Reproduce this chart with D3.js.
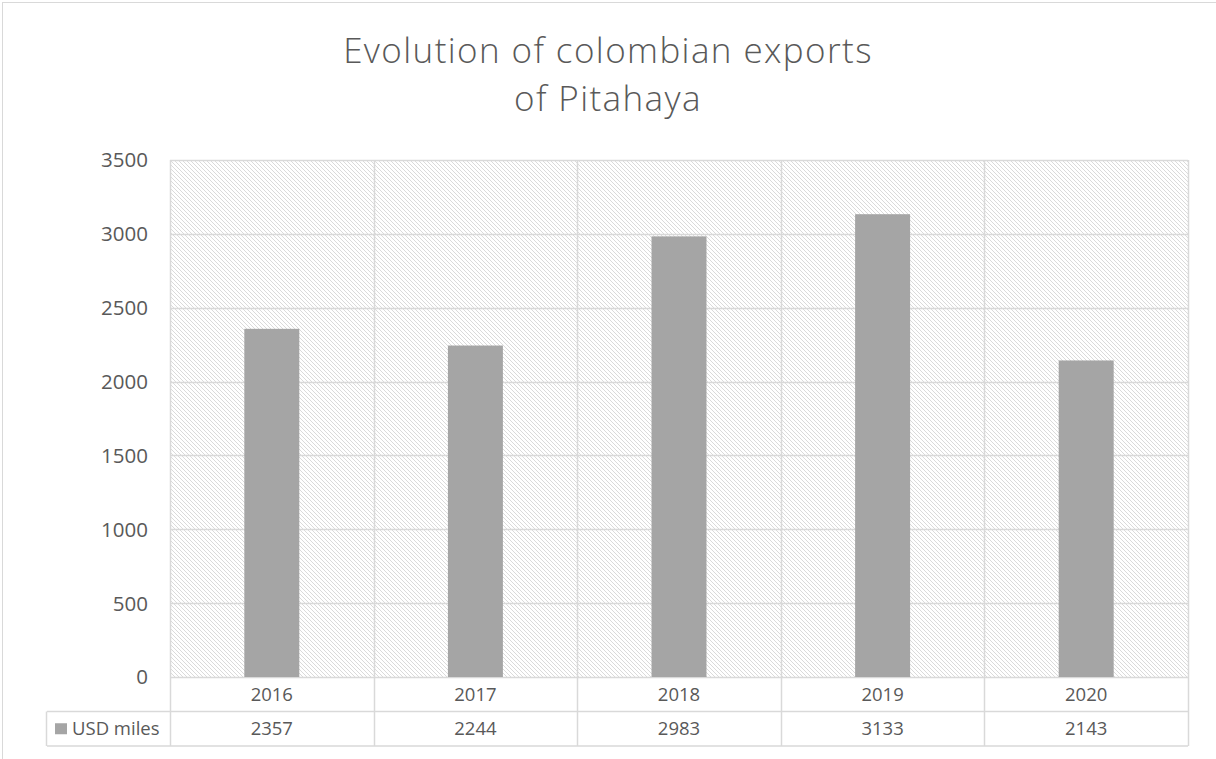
<!DOCTYPE html>
<html>
<head>
<meta charset="utf-8">
<script src="https://cdn.jsdelivr.net/npm/d3@7"></script>
<style>
  body { margin: 0; background: #fff; }
  svg { display: block; }
</style>
</head>
<body>
<div id="chart"></div>
<script>
var years = ["2016", "2017", "2018", "2019", "2020"];
var usdMiles = [2357, 2244, 2983, 3133, 2143];
var yTicks = [0, 500, 1000, 1500, 2000, 2500, 3000, 3500];
var seriesName = "USD miles";
var titleLines = ["Evolution of colombian exports", "of Pitahaya"];

var W = 1216, H = 759;
var margin = { top: 160, left: 170, right: 28, bottom: 82 };
var width = W - margin.left - margin.right;
var height = H - margin.top - margin.bottom;
var rowH = 34.5;
var textColor = "#595959";
var gridColor = "#d9d9d9";
var font = "'Open Sans', 'Liberation Sans', sans-serif";

var svg = d3.select("#chart").append("svg")
	.attr("width", W)
	.attr("height", H);

// hatch for the plot area
var defs = svg.append("defs");
var pat = defs.append("pattern")
	.attr("id", "hatch")
	.attr("patternUnits", "userSpaceOnUse")
	.attr("width", 4)
	.attr("height", 4);
pat.append("rect").attr("width", 4).attr("height", 4).attr("fill", "#fff");
pat.append("path")
	.attr("d", "M-1,-1 L5,5 M-1,3 L1,5 M3,-1 L5,1")
	.attr("stroke", "#dadada")
	.attr("stroke-width", 1);

// chart border
svg.append("rect")
	.attr("x", 2.5).attr("y", 2.5)
	.attr("width", W + 10).attr("height", H + 10)
	.attr("fill", "none")
	.attr("stroke", gridColor);

// title
svg.append("g").selectAll("text")
	.data(titleLines)
	.enter().append("text")
	.attr("x", 608)
	.attr("y", function(d, i) { return 63 + i * 48; })
	.attr("text-anchor", "middle")
	.attr("font-family", font)
	.attr("font-weight", 300)
	.attr("font-size", 35)
	.attr("letter-spacing", 1.4)
	.attr("fill", textColor)
	.text(function(d) { return d; });

var g = svg.append("g")
	.attr("transform", "translate(" + margin.left + "," + margin.top + ")");

var x = d3.scaleBand()
	.domain(years)
	.range([0, width])
	.paddingInner(0)
	.paddingOuter(0);

var y = d3.scaleLinear()
	.domain([0, 3500])
	.range([height, 0]);

g.append("rect")
	.attr("width", width)
	.attr("height", height)
	.attr("fill", "url(#hatch)");

// horizontal gridlines
g.append("g").selectAll("line")
	.data(yTicks)
	.enter().append("line")
	.attr("x1", 0).attr("x2", width)
	.attr("y1", function(d) { return Math.round(y(d)) + 0.5; })
	.attr("y2", function(d) { return Math.round(y(d)) + 0.5; })
	.attr("stroke", gridColor)
	.attr("stroke-width", 1.5);

// vertical gridlines through plot and table
var bounds = years.map(function(d) { return x(d); }).concat([width]);
g.append("g").selectAll("line")
	.data(bounds)
	.enter().append("line")
	.attr("x1", function(d) { return Math.round(d) + 0.5; })
	.attr("x2", function(d) { return Math.round(d) + 0.5; })
	.attr("y1", 0)
	.attr("y2", height + rowH * 2)
	.attr("stroke", gridColor)
	.attr("stroke-width", 1.5);

// bars
var barW = x.bandwidth() * 0.27;
g.append("g").selectAll("rect")
	.data(usdMiles)
	.enter().append("rect")
	.attr("x", function(d, i) { return x(years[i]) + (x.bandwidth() - barW) / 2; })
	.attr("y", function(d) { return y(d); })
	.attr("width", barW)
	.attr("height", function(d) { return y(0) - y(d); })
	.attr("fill", "#a5a5a5");

// y axis labels
g.append("g").selectAll("text")
	.data(yTicks)
	.enter().append("text")
	.attr("x", -22)
	.attr("y", function(d) { return y(d); })
	.attr("dy", "0.36em")
	.attr("text-anchor", "end")
	.attr("font-family", font)
	.attr("font-size", 20.5)
	.attr("fill", textColor)
	.text(function(d) { return d; });

// data table
var table = g.append("g").attr("transform", "translate(0," + height + ")");

table.append("line")
	.attr("x1", -123).attr("x2", width)
	.attr("y1", rowH).attr("y2", rowH)
	.attr("stroke", gridColor).attr("stroke-width", 1.5);
table.append("line")
	.attr("x1", -123).attr("x2", width)
	.attr("y1", rowH * 2).attr("y2", rowH * 2)
	.attr("stroke", gridColor).attr("stroke-width", 1.5);
table.append("line")
	.attr("x1", -123.5).attr("x2", -123.5)
	.attr("y1", rowH).attr("y2", rowH * 2)
	.attr("stroke", gridColor).attr("stroke-width", 1.5);

table.append("g").selectAll("text")
	.data(years)
	.enter().append("text")
	.attr("x", function(d) { return x(d) + x.bandwidth() / 2; })
	.attr("y", rowH / 2)
	.attr("dy", "0.36em")
	.attr("text-anchor", "middle")
	.attr("font-family", font)
	.attr("font-size", 18.5)
	.attr("fill", textColor)
	.text(function(d) { return d; });

table.append("g").selectAll("text")
	.data(usdMiles)
	.enter().append("text")
	.attr("x", function(d, i) { return x(years[i]) + x.bandwidth() / 2; })
	.attr("y", rowH * 1.5)
	.attr("dy", "0.36em")
	.attr("text-anchor", "middle")
	.attr("font-family", font)
	.attr("font-size", 18.5)
	.attr("fill", textColor)
	.text(function(d) { return d; });

// legend key in table
table.append("rect")
	.attr("x", -115).attr("y", rowH * 1.5 - 5.5)
	.attr("width", 12).attr("height", 11)
	.attr("fill", "#a5a5a5");
table.append("text")
	.attr("x", -98)
	.attr("y", rowH * 1.5)
	.attr("dy", "0.36em")
	.attr("font-family", font)
	.attr("font-size", 18.5)
	.attr("fill", textColor)
	.text(seriesName);
</script>
</body>
</html>
